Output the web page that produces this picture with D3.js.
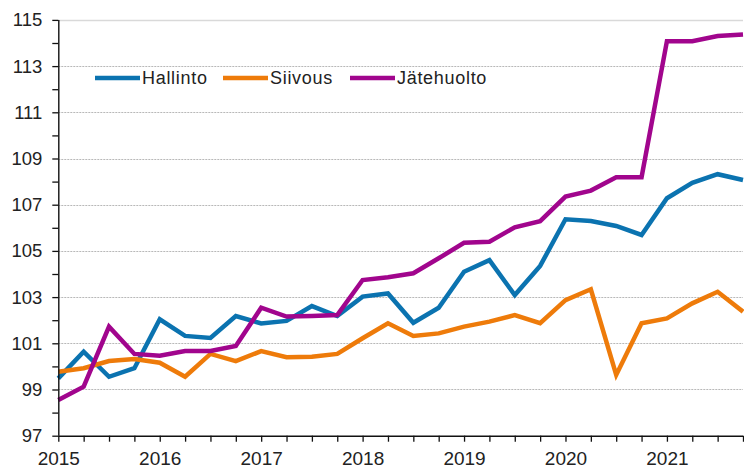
<!DOCTYPE html>
<html>
<head>
<meta charset="utf-8">
<script src="https://cdn.jsdelivr.net/npm/d3@7"></script>
<style>
  body { margin: 0; background: #fff; }
  svg { display: block; }
  text { font-family: Arial, "Liberation Sans", sans-serif; fill: #222; }
</style>
</head>
<body>
<div id="chart"></div>
<script>
const WIDTH = 744;
const HEIGHT = 470;

// quarters 2015Q1 .. 2021Q4
const years = [2015, 2016, 2017, 2018, 2019, 2020, 2021];
const quarters = d3.range(28);

const seriesNames = ['Hallinto', 'Siivous', 'Jätehuolto'];
const seriesColors = ['#0b73b0', '#ee7b0a', '#a1058d'];

const hallinto = [99.48, 100.64, 99.55, 99.92, 102.04, 101.32, 101.23, 102.18, 101.86, 101.97,
    102.61, 102.18, 103.02, 103.16, 101.89, 102.54, 104.1, 104.6, 103.09, 104.35,
    106.37, 106.29, 106.08, 105.69, 107.28, 107.95, 108.32, 108.07];
const siivous = [99.77, 99.92, 100.23, 100.32, 100.16, 99.55, 100.54, 100.23, 100.66, 100.4,
    100.42, 100.54, 101.22, 101.87, 101.32, 101.43, 101.72, 101.94, 102.22, 101.87,
    102.87, 103.34, 99.63, 101.87, 102.08, 102.73, 103.23, 102.37];
const jatehuolto = [98.55, 99.12, 101.72, 100.54, 100.46, 100.67, 100.67, 100.88, 102.54, 102.16,
    102.18, 102.22, 103.74, 103.86, 104.03, 104.68, 105.35, 105.4, 106.02, 106.29,
    107.35, 107.61, 108.19, 108.19, 114.08, 114.08, 114.3, 114.37];

const seriesValues = [hallinto, siivous, jatehuolto];

const yTicks = d3.range(97, 116);
const yGrid = d3.range(99, 115, 2);

const svg = d3.select('#chart')
    .append('svg')
    .attr('width', WIDTH)
    .attr('height', HEIGHT);

const x = d3.scaleLinear().domain([0, 27]).range([58.3, 743]);
const y = d3.scaleLinear().domain([97, 115]).range([435.7, 19.9]);

// grid lines
svg.selectAll('.grid')
    .data(yGrid)
    .enter()
    .append('line')
    .attr('x1', x(0))
    .attr('x2', x(27))
    .attr('y1', d => Math.round(y(d)) + 0.5)
    .attr('y2', d => Math.round(y(d)) + 0.5)
    .attr('stroke', '#b8b8b8')
    .attr('stroke-width', 1)
    .attr('stroke-dasharray', '2,1');

svg.append('line')
    .attr('x1', x(0))
    .attr('x2', x(27))
    .attr('y1', Math.round(y(115)) + 0.5)
    .attr('y2', Math.round(y(115)) + 0.5)
    .attr('stroke', '#d9d9d9')
    .attr('stroke-width', 1.5);

// series lines
const line = d3.line()
    .x((d, i) => x(i))
    .y(d => y(d));

svg.selectAll('.series')
    .data(seriesValues)
    .enter()
    .append('path')
    .attr('d', d => line(d))
    .attr('fill', 'none')
    .attr('stroke', (d, i) => seriesColors[i])
    .attr('stroke-width', 4.5)
    .attr('stroke-linejoin', 'miter')
    .attr('stroke-linecap', 'butt');

// axes
const yAxis = d3.axisLeft(y)
    .tickValues(yTicks)
    .tickSize(6)
    .tickPadding(10)
    .tickFormat(d => d % 2 === 1 ? d : '');

const gy = svg.append('g')
    .attr('transform', `translate(${x(0)},0)`)
    .call(yAxis);

const xAxis = d3.axisBottom(x)
    .tickValues(quarters)
    .tickSize(6)
    .tickPadding(9.5)
    .tickFormat(i => i % 4 === 0 ? years[i / 4] : '');

const gx = svg.append('g')
    .attr('transform', `translate(0,${y(97)})`)
    .call(xAxis);

[gx, gy].forEach(g => {
    g.select('.domain').attr('stroke', '#111').attr('stroke-width', 1.4);
    g.selectAll('.tick line').attr('stroke', '#111').attr('stroke-width', 1.3);
    g.selectAll('text')
        .attr('fill', '#222')
        .attr('font-family', 'Arial, "Liberation Sans", sans-serif');
});
gy.select('.domain').attr('d', `M0.5,${y(115)}V${y(97)}`);
gx.select('.domain').attr('d', `M${x(0)},0.5H${x(27)}`);
gy.selectAll('text').attr('font-size', 18.5);
gx.selectAll('text').attr('font-size', 19);

// legend
const legendX = [95, 223, 350];
const legend = svg.selectAll('.legend')
    .data(seriesNames)
    .enter()
    .append('g')
    .attr('transform', (d, i) => `translate(${legendX[i]},78)`);

legend.append('line')
    .attr('x1', 0)
    .attr('x2', 45)
    .attr('stroke', (d, i) => seriesColors[i])
    .attr('stroke-width', 4.5);

legend.append('text')
    .attr('x', 47)
    .attr('y', 5.5)
    .attr('font-size', 18)
    .attr('letter-spacing', 0.7)
    .text(d => d);
</script>
</body>
</html>
